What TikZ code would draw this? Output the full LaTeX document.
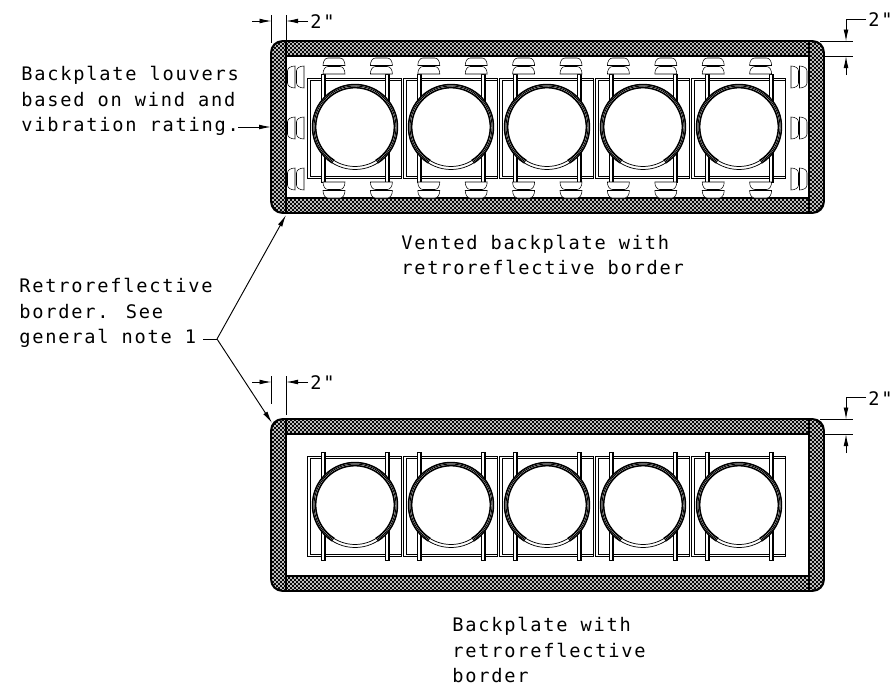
\documentclass[tikz,border=0pt]{standalone}
\usepackage{fontspec}
\newfontfamily\platefont{DejaVu Sans Mono}[LetterSpace=9.5]
\usetikzlibrary{arrows.meta,patterns}
\pgfdeclarepatternformonly{plateweave}{\pgfqpoint{-.1pt}{-.1pt}}{\pgfqpoint{3.1pt}{3.1pt}}{\pgfqpoint{3pt}{3pt}}{
  \pgfpathcircle{\pgfqpoint{0.75pt}{0.75pt}}{.8pt}
  \pgfpathcircle{\pgfqpoint{2.25pt}{2.25pt}}{.8pt}
  \pgfusepath{fill}}
\tikzset{
  plabel/.style={anchor=west,align=left,inner sep=0pt,font=\platefont\fontsize{14}{19}\selectfont},
  dimline/.style={line width=0.7pt},
  dimtip/.style={-{Latex[length=9pt,width=3.6pt]},line width=0.7pt},
  plateedge/.style={line width=1.3pt},
  thinedge/.style={line width=0.55pt},
  louver/.pic={\draw[line width=0.4pt,fill=white] (-11,0) .. controls (-11,4) and (-9,7.5) .. (-6,7.5) -- (6,7.5) .. controls (9,7.5) and (11,4) .. (11,0) -- cycle;}
}
\begin{document}
\begin{tikzpicture}[x=0.75pt,y=0.75pt,yscale=-1]
\useasboundingbox (0,0) rectangle (892,689);

% Both backplates, second one 378 lower
\foreach \oy in {0,378}{
  %Retroreflective border
  \fill[black,rounded corners=8.5pt] (271,\oy+41) rectangle (824,\oy+213);
  \fill[pattern=plateweave,pattern color=white,rounded corners=8.5pt] (272,\oy+42) rectangle (823,\oy+212);
  \fill[white] (286,\oy+56) rectangle (809,\oy+198);
  \draw[plateedge,rounded corners=8.5pt] (271,\oy+41) rectangle (824,\oy+213);
  \draw[plateedge] (286,\oy+56) rectangle (809,\oy+198);
  \draw[plateedge] (286,\oy+41) -- (286,\oy+213);
  \draw[line width=1.6pt] (809,\oy+41) -- (809,\oy+213);

  %Sections
  \foreach \cx in {355,451,547,643,739}{
    \draw[thinedge] (\cx-48,\oy+78) rectangle (\cx+46,\oy+178.5);
    \draw[thinedge] (\cx-44.5,\oy+80) rectangle (\cx+46,\oy+176.5);
    \foreach \bx in {-32,32}{
      \draw[thinedge,fill=white] (\cx+\bx-2,\oy+74) rectangle (\cx+\bx+2,\oy+182);
      \draw[line width=0.8pt] (\cx+\bx+2,\oy+74) -- (\cx+\bx+2,\oy+182);
    }
    \fill[white] (\cx,\oy+127) circle [radius=42];
    \draw[thinedge] (\cx,\oy+127) circle [radius=42.5];
    \draw[thinedge] (\cx,\oy+127) circle [radius=39.5];
    \draw[line width=1.1pt] (\cx,\oy+127) ++(58:42.5) arc [start angle=58,end angle=-238,radius=42.5];
    \draw[line width=1.1pt] (\cx,\oy+127) ++(58:39.3) arc [start angle=58,end angle=-238,radius=39.3];
    \draw[line width=0.7pt] (\cx,\oy+127) ++(58:41) arc [start angle=58,end angle=-238,radius=41];
  }
}

% Louvers on the vented backplate
\foreach \k in {0,...,9}{
  \pic at (334+47.4*\k,65.5) {louver};
  \pic at (334+47.4*\k,74) {louver};
  \pic[rotate=180] at (334+47.4*\k,182) {louver};
  \pic[rotate=180] at (334+47.4*\k,190.5) {louver};
}
\foreach \ly in {77,128,179}{
  \pic[rotate=90] at (295,\ly) {louver};
  \pic[rotate=90] at (304,\ly) {louver};
  \pic[rotate=-90] at (791,\ly) {louver};
  \pic[rotate=-90] at (799.5,\ly) {louver};
}

% Text Node
\draw (21,101) node [plabel] (louvernote) {Backplate louvers\\based on wind and\\vibration rating.};
\draw (19,313) node [plabel] (bordernote) {Retroreflective\\border. See\\general note 1};
\draw (401,255) node [plabel] (ventedcap) {Vented backplate with\\retroreflective border};
\draw (452,650) node [plabel] (plaincap) {Backplate with\\retroreflective\\border};
\draw (310,22) node [plabel] (dimtopleft) {2"};
\draw (310,383) node [plabel] (dimlowleft) {2"};
\draw (868,20) node [plabel] (dimtopright) {2"};
\draw (868,399) node [plabel] (dimlowright) {2"};

\coordinate (louvertip) at (271,127);
\coordinate (louverstart) at (238,127);
\coordinate (forkstart) at (203,339);
\coordinate (fork) at (217,339);
\coordinate (uppertip) at (286,215);
\coordinate (lowertip) at (272,423);

% Leaders
\draw[dimtip] (louverstart) -- (louvertip);
\draw[dimline] (forkstart) -- (fork);
\draw[dimtip] (fork) -- (uppertip);
\draw[dimtip] (fork) -- (lowertip);

% Dimensions on the left
\foreach \dy/\up in {21/15,382/376}{
  \draw[dimline] (271.5,\up) -- (271.5,\dy+22);
  \draw[dimline] (286,\up) -- (286,\dy+33);
  \draw[dimtip] (252,\dy) -- (271.5,\dy);
  \draw[dimtip] (308,\dy) -- (286,\dy);
}

% Dimensions on the right
\foreach \oy in {0,378}{
  \draw[dimline] (820,\oy+41.5) -- (853,\oy+41.5);
  \draw[dimline] (824,\oy+56) -- (853,\oy+56);
  \draw[dimtip] (866,\oy+19.5) -- (846,\oy+19.5) -- (846,\oy+41.5);
  \draw[dimtip] (846,\oy+75) -- (846,\oy+56);
}
\end{tikzpicture}
\end{document}
